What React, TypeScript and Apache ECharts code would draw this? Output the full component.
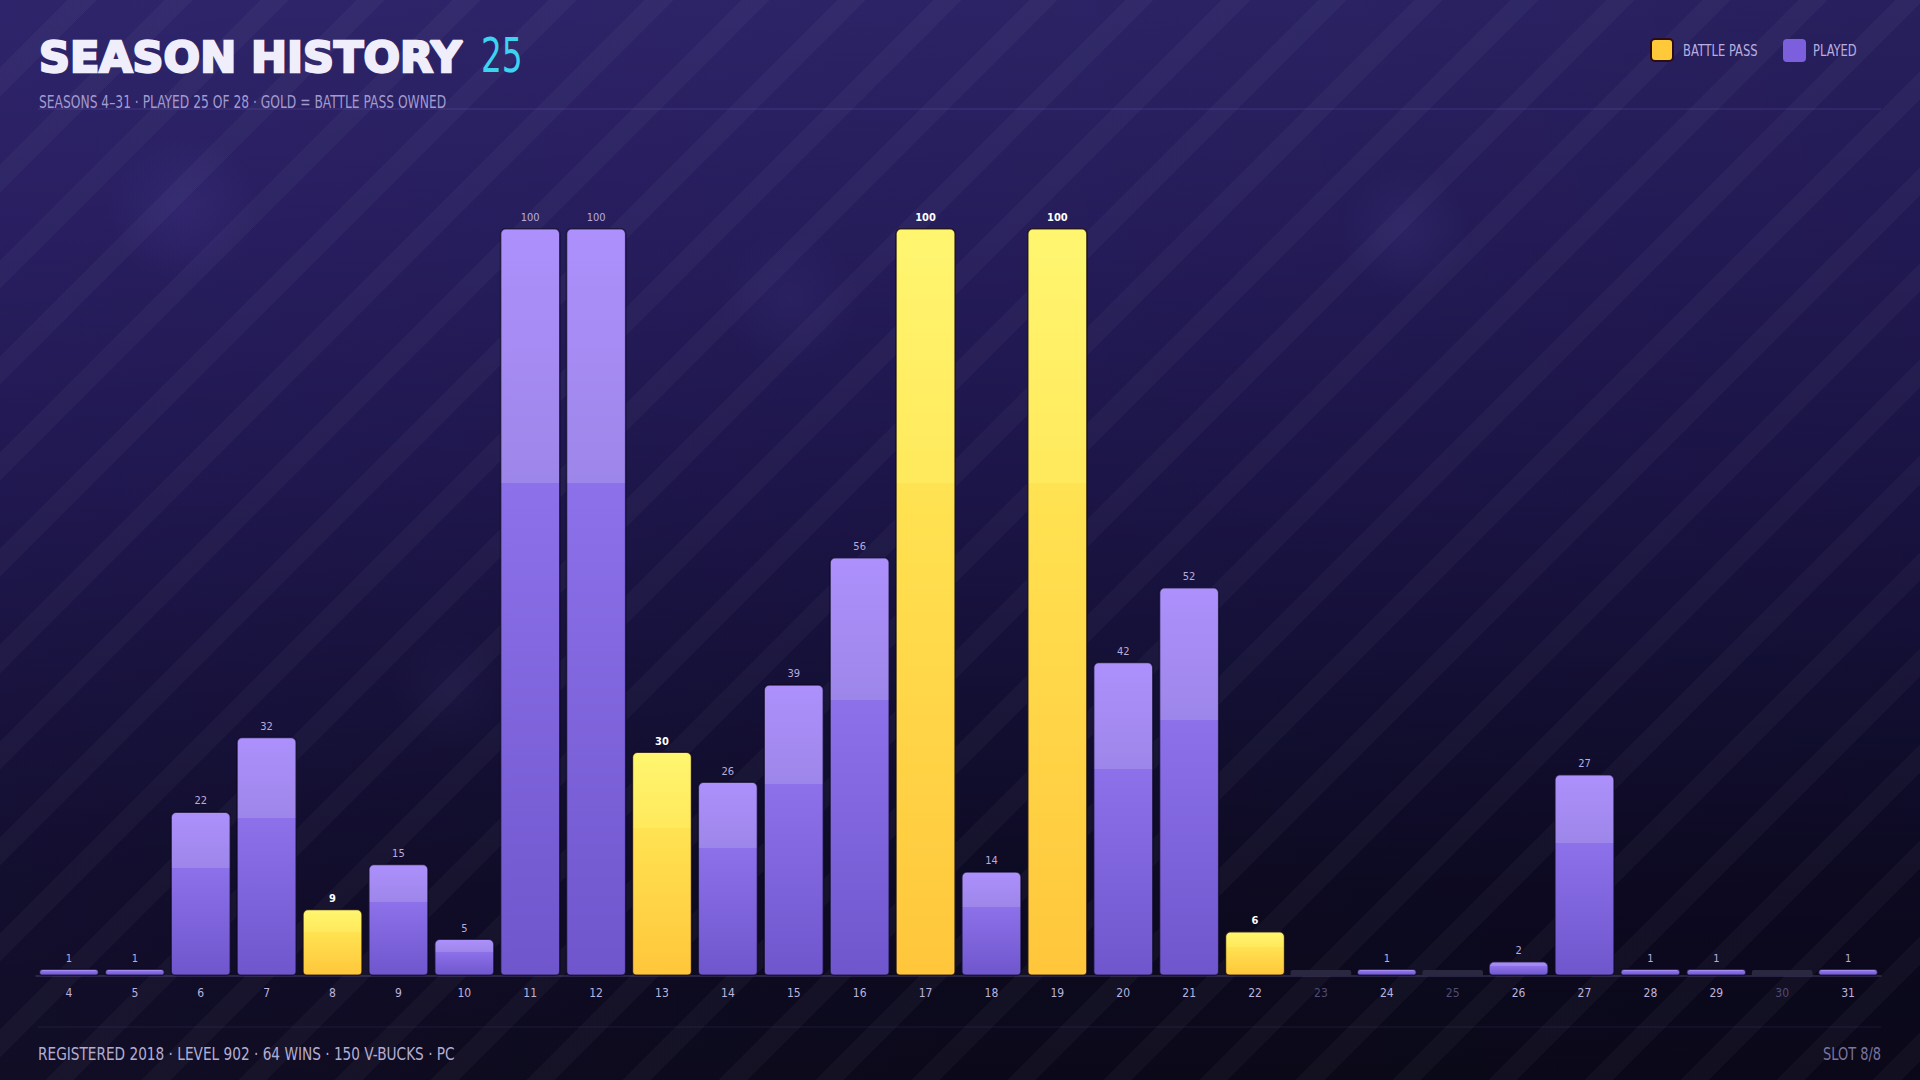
import React, { useEffect, useRef } from "react";
import * as echarts from "echarts";

// ---------- data ----------
const SEASONS = ["4", "5", "6", "7", "8", "9", "10", "11", "12", "13", "14", "15", "16", "17", "18", "19", "20", "21", "22", "23", "24", "25", "26", "27", "28", "29", "30", "31"];
const PROGRESS = [1, 1, 22, 32, 9, 15, 5, 100, 100, 30, 26, 39, 56, 100, 14, 100, 42, 52, 6, 0, 1, 0, 2, 27, 1, 1, 0, 1];
const BATTLE_PASS_SEASONS = ["8", "13", "17", "19", "22"];
const UNPLAYED_SEASONS = ["23", "25", "30"];

const TITLE = "SEASON HISTORY";
const PLAYED_COUNT = "25";
const SUBTITLE = "SEASONS 4–31 · PLAYED 25 OF 28 · GOLD = BATTLE PASS OWNED";
const FOOTER = "REGISTERED 2018 · LEVEL 902 · 64 WINS · 150 V-BUCKS · PC";
const SLOT = "SLOT 8/8";
const LEGEND_BP = "BATTLE PASS";
const LEGEND_PLAYED = "PLAYED";

const NARROW = '"Liberation Sans Narrow", "DejaVu Sans Condensed", "Roboto Condensed", "Liberation Sans", sans-serif';
const HEAVY = '"DejaVu Sans", "Liberation Sans", sans-serif';

const purpleGrad = () =>
  new echarts.graphic.LinearGradient(0, 0, 0, 1, [
    { offset: 0, color: "#ad90fc" },
    { offset: 0.34, color: "#9d86e9" },
    { offset: 0.34, color: "#8c71ea" },
    { offset: 1, color: "#7056cd" },
  ]);
const goldGrad = () =>
  new echarts.graphic.LinearGradient(0, 0, 0, 1, [
    { offset: 0, color: "#fff670" },
    { offset: 0.34, color: "#ffe95c" },
    { offset: 0.34, color: "#ffe352" },
    { offset: 1, color: "#ffc63b" },
  ]);

export default function App() {
  const ref = useRef<HTMLDivElement>(null);

  useEffect(() => {
    if (!ref.current) return;
    const chart = echarts.init(ref.current, null, { renderer: "svg" });

    const isBP = (s: string) => BATTLE_PASS_SEASONS.indexOf(s) >= 0;
    const isUnplayed = (s: string) => UNPLAYED_SEASONS.indexOf(s) >= 0;

    const unplayedData = SEASONS.map((s) => (isUnplayed(s) ? 0 : "-"));
    const playedData = SEASONS.map((s, i) => (!isUnplayed(s) && !isBP(s) ? PROGRESS[i] : "-"));
    const bpData = SEASONS.map((s, i) => (isBP(s) ? PROGRESS[i] : "-"));

    const barCommon = {
      type: "bar",
      barGap: "-100%",
      barCategoryGap: "8%",
    };

    chart.setOption({
      animation: false,
      backgroundColor: "transparent",
      grid: { left: 36, right: 39, top: 228, bottom: 104, containLabel: false },
      xAxis: {
        type: "category",
        data: SEASONS,
        axisTick: { show: false },
        axisLine: { show: true, lineStyle: { color: "rgba(120,110,170,0.35)", width: 1.5 } },
        axisLabel: {
          margin: 11,
          fontSize: 12,
          fontFamily: NARROW,
          color: (v: string) => (isUnplayed(v) ? "#514b75" : "#bab3dd"),
        },
        splitLine: { show: false },
      },
      yAxis: {
        type: "value",
        min: 0,
        max: 100,
        show: false,
        splitLine: { show: false },
      },
      series: [
        {
          ...barCommon,
          name: "NOT PLAYED",
          data: unplayedData,
          barMinHeight: 6,
          silent: true,
          itemStyle: { color: "#2a2740", borderRadius: [2, 2, 0, 0] },
          z: 1,
        },
        {
          ...barCommon,
          name: LEGEND_PLAYED,
          data: playedData,
          itemStyle: {
            color: purpleGrad(),
            borderRadius: [5, 5, 4, 4],
            borderColor: "rgba(10,8,30,0.7)",
            borderWidth: 1.5,
          },
          label: {
            show: true,
            position: "top",
            distance: 5,
            fontSize: 11,
            fontFamily: NARROW,
            color: "#b6acdf",
          },
          z: 2,
        },
        {
          ...barCommon,
          name: LEGEND_BP,
          data: bpData,
          itemStyle: {
            color: goldGrad(),
            borderRadius: [5, 5, 4, 4],
            borderColor: "rgba(20,8,20,0.8)",
            borderWidth: 1.5,
          },
          label: {
            show: true,
            position: "top",
            distance: 5,
            fontSize: 11,
            fontWeight: "bold",
            fontFamily: NARROW,
            color: "#ffffff",
          },
          z: 3,
        },
      ],
      graphic: [
        {
          type: "text",
          x: 39,
          y: 57,
          style: {
            text: TITLE,
            fontFamily: HEAVY,
            fontWeight: "bold",
            fontSize: 43,
            fill: "#f1eefb",
            stroke: "#f1eefb",
            lineWidth: 2.4,
            verticalAlign: "middle",
            align: "left",
          },
        },
        {
          type: "text",
          x: 481,
          y: 55,
          scaleX: 0.76,
          style: {
            text: PLAYED_COUNT,
            fontFamily: NARROW,
            fontSize: 48,
            fill: "#3fd3f2",
            verticalAlign: "middle",
            align: "left",
          },
        },
        {
          type: "text",
          x: 39,
          y: 102,
          scaleX: 0.76,
          style: {
            text: SUBTITLE,
            fontFamily: NARROW,
            fontSize: 18,
            fill: "#a39bd0",
            verticalAlign: "middle",
            align: "left",
          },
        },
        {
          type: "line",
          shape: { x1: 38, y1: 109, x2: 1881, y2: 109 },
          style: { stroke: "rgba(150,130,240,0.22)", lineWidth: 1 },
          silent: true,
        },
        // legend
        {
          type: "rect",
          shape: { x: 1651, y: 39, width: 22, height: 22, r: 4 },
          style: { fill: "#ffc93a", stroke: "#2a0c16", lineWidth: 2 },
        },
        {
          type: "text",
          x: 1683,
          y: 50,
          scaleX: 0.8,
          style: {
            text: LEGEND_BP,
            fontFamily: NARROW,
            fontSize: 16,
            fill: "#b7afe0",
            verticalAlign: "middle",
            align: "left",
          },
        },
        {
          type: "rect",
          shape: { x: 1783, y: 39, width: 23, height: 23, r: 4 },
          style: { fill: "#7b5fdc" },
        },
        {
          type: "text",
          x: 1813,
          y: 50,
          scaleX: 0.8,
          style: {
            text: LEGEND_PLAYED,
            fontFamily: NARROW,
            fontSize: 16,
            fill: "#b7afe0",
            verticalAlign: "middle",
            align: "left",
          },
        },
        // footer
        {
          type: "line",
          shape: { x1: 38, y1: 1027, x2: 1881, y2: 1027 },
          style: { stroke: "rgba(140,130,220,0.12)", lineWidth: 1 },
          silent: true,
        },
        {
          type: "text",
          x: 38,
          y: 1054,
          scaleX: 0.845,
          style: {
            text: FOOTER,
            fontFamily: NARROW,
            fontSize: 18,
            fill: "#b3add3",
            verticalAlign: "middle",
            align: "left",
          },
        },
        {
          type: "text",
          x: 1881,
          y: 1054,
          scaleX: 0.8,
          style: {
            text: SLOT,
            fontFamily: NARROW,
            fontSize: 18,
            fill: "#7b749e",
            verticalAlign: "middle",
            align: "right",
          },
        },
      ],
    });

    return () => chart.dispose();
  }, []);

  const bg = [
    "radial-gradient(circle at 184px 208px, rgba(130,110,230,0.10) 0px, rgba(130,110,230,0) 75px)",
    "radial-gradient(circle at 790px 300px, rgba(130,110,230,0.07) 0px, rgba(130,110,230,0) 70px)",
    "radial-gradient(circle at 1405px 232px, rgba(130,110,230,0.09) 0px, rgba(130,110,230,0) 65px)",
    "radial-gradient(circle at 450px 690px, rgba(130,110,230,0.05) 0px, rgba(130,110,230,0) 60px)",
    "repeating-linear-gradient(135deg, rgba(255,255,255,0) 0px, rgba(255,255,255,0) 48px, rgba(255,255,255,0.03) 48px, rgba(255,255,255,0.03) 68px)",
    "linear-gradient(90deg, rgba(70,50,150,0.10) 0%, rgba(0,0,0,0) 50%, rgba(0,0,20,0.10) 100%)",
    "linear-gradient(180deg, #2c2366 0%, #251c5a 22%, #1c1548 45%, #130f33 65%, #0d0a22 82%, #0b0919 100%)",
  ].join(", ");

  return (
    <div
      style={{
        position: "fixed",
        left: 0,
        top: 0,
        width: 1920,
        height: 1080,
        background: bg,
        overflow: "hidden",
      }}
    >
      <div ref={ref} style={{ width: 1920, height: 1080 }} />
    </div>
  );
}
